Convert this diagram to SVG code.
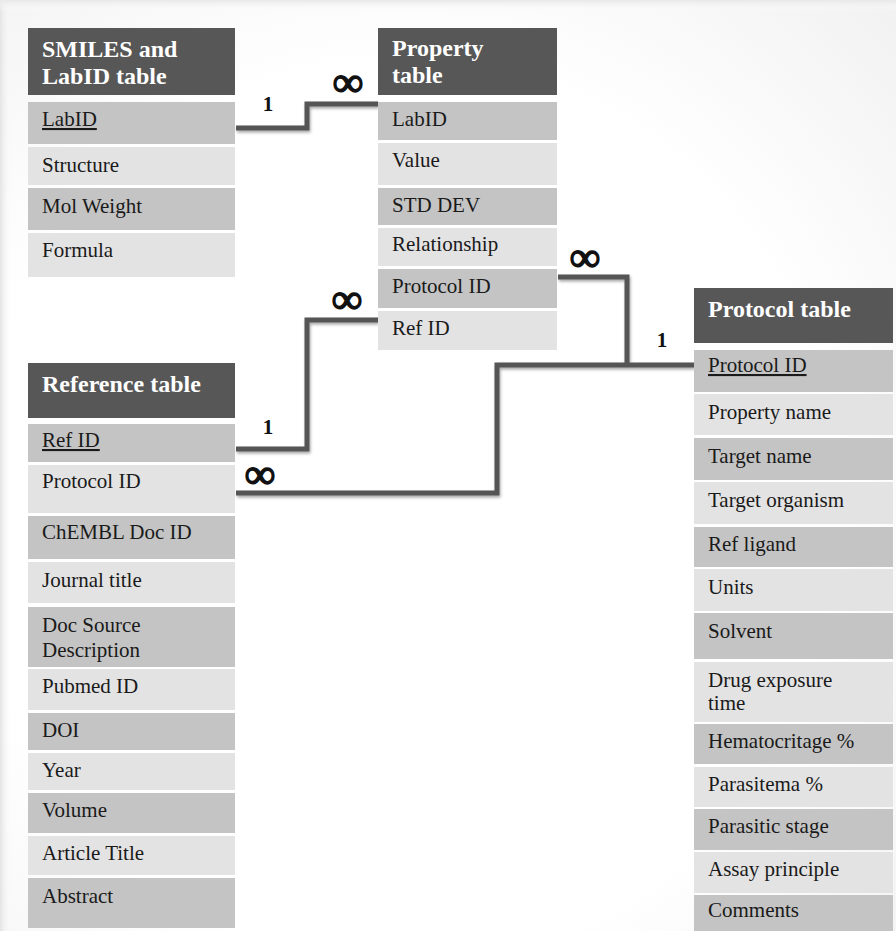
<svg xmlns="http://www.w3.org/2000/svg" width="896" height="931" viewBox="0 0 896 931">
<defs>
<radialGradient id="bg" cx="0.45" cy="0.55" r="0.8">
<stop offset="0.6" stop-color="#ffffff"/>
<stop offset="1" stop-color="#f0f0f0"/>
</radialGradient>
<linearGradient id="edgeL" x1="0" y1="0" x2="1" y2="0">
<stop offset="0" stop-color="#e4e4e4"/>
<stop offset="1" stop-color="#ffffff" stop-opacity="0"/>
</linearGradient>
<linearGradient id="edgeT" x1="0" y1="0" x2="0" y2="1">
<stop offset="0" stop-color="#e8e8e8"/>
<stop offset="1" stop-color="#ffffff" stop-opacity="0"/>
</linearGradient>
<filter id="sh" x="-10%" y="-10%" width="120%" height="130%">
<feDropShadow dx="1" dy="2" stdDeviation="1.5" flood-color="#000" flood-opacity="0.35"/>
</filter>
<style>
.hd{fill:#575757}
.dk{fill:#c4c4c4}
.lt{fill:#e3e3e3}
.ht{font-family:"Liberation Serif","Times New Roman",serif;font-weight:bold;font-size:24px;fill:#ffffff}
.rt{font-family:"Liberation Serif","Times New Roman",serif;font-size:21px;fill:#1a1a1a}
.u{text-decoration:underline}
.conn{fill:none;stroke:#555555;stroke-width:5;stroke-linejoin:miter}
.one{font-family:"Liberation Serif","Times New Roman",serif;font-weight:bold;font-size:21px;fill:#111;text-anchor:middle}
.inf{font-family:"Liberation Serif","DejaVu Serif",serif;font-weight:bold;font-size:42px;fill:#111;stroke:#111;stroke-width:1.6;text-anchor:middle}
</style>
</defs>
<rect x="0" y="0" width="896" height="931" fill="url(#bg)"/>
<rect x="0" y="0" width="12" height="931" fill="url(#edgeL)"/>
<rect x="0" y="0" width="896" height="12" fill="url(#edgeT)"/>

<g id="connectors" filter="url(#sh)">
<path class="conn" d="M236,128 H307 V104 H378"/>
<path class="conn" d="M378,320 H307 V449 H236"/>
<path class="conn" d="M236,493 H497 V365 H694"/>
<path class="conn" d="M558,277 H627 V365"/>
</g>

<g id="labels">
<text class="one" x="268" y="111">1</text>
<text class="inf" x="348" y="96">∞</text>
<text class="inf" x="347" y="313">∞</text>
<text class="one" x="268" y="434">1</text>
<text class="inf" x="260" y="488">∞</text>
<text class="inf" x="585" y="271">∞</text>
<text class="one" x="662" y="347">1</text>
</g>

<g id="smiles-table">
<rect class="hd" x="28" y="28" width="207" height="67"/>
<text class="ht" x="42" y="57">SMILES and</text>
<text class="ht" x="42" y="84">LabID table</text>
<rect class="dk" x="28" y="102" width="207" height="42"/>
<text class="rt u" x="42" y="126">LabID</text>
<rect class="lt" x="28" y="147" width="207" height="38"/>
<text class="rt" x="42" y="172">Structure</text>
<rect class="dk" x="28" y="188" width="207" height="42"/>
<text class="rt" x="42" y="213">Mol Weight</text>
<rect class="lt" x="28" y="233" width="207" height="44"/>
<text class="rt" x="42" y="257">Formula</text>
</g>

<g id="property-table">
<rect class="hd" x="378" y="28" width="179" height="67"/>
<text class="ht" x="392" y="56">Property</text>
<text class="ht" x="392" y="83">table</text>
<rect class="dk" x="378" y="102" width="179" height="38"/>
<text class="rt" x="392" y="126">LabID</text>
<rect class="lt" x="378" y="143" width="179" height="42"/>
<text class="rt" x="392" y="167">Value</text>
<rect class="dk" x="378" y="188" width="179" height="37"/>
<text class="rt" x="392" y="212">STD DEV</text>
<rect class="lt" x="378" y="228" width="179" height="38"/>
<text class="rt" x="392" y="251">Relationship</text>
<rect class="dk" x="378" y="269" width="179" height="39"/>
<text class="rt" x="392" y="293">Protocol ID</text>
<rect class="lt" x="378" y="311" width="179" height="39"/>
<text class="rt" x="392" y="335">Ref ID</text>
</g>

<g id="protocol-table">
<rect class="hd" x="694" y="288" width="199" height="55"/>
<text class="ht" x="708" y="317">Protocol table</text>
<rect class="dk" x="694" y="350" width="199" height="42"/>
<text class="rt u" x="708" y="372">Protocol ID</text>
<rect class="lt" x="694" y="394" width="199" height="41"/>
<text class="rt" x="708" y="419">Property name</text>
<rect class="dk" x="694" y="438" width="199" height="42"/>
<text class="rt" x="708" y="463">Target name</text>
<rect class="lt" x="694" y="482" width="199" height="42"/>
<text class="rt" x="708" y="507">Target organism</text>
<rect class="dk" x="694" y="527" width="199" height="40"/>
<text class="rt" x="708" y="551">Ref ligand</text>
<rect class="lt" x="694" y="569" width="199" height="42"/>
<text class="rt" x="708" y="594">Units</text>
<rect class="dk" x="694" y="613" width="199" height="46"/>
<text class="rt" x="708" y="638">Solvent</text>
<rect class="lt" x="694" y="662" width="199" height="60"/>
<text class="rt" x="708" y="687">Drug exposure</text>
<text class="rt" x="708" y="710">time</text>
<rect class="dk" x="694" y="724" width="199" height="40"/>
<text class="rt" x="708" y="748">Hematocritage %</text>
<rect class="lt" x="694" y="767" width="199" height="40"/>
<text class="rt" x="708" y="791">Parasitema %</text>
<rect class="dk" x="694" y="809" width="199" height="41"/>
<text class="rt" x="708" y="833">Parasitic stage</text>
<rect class="lt" x="694" y="852" width="199" height="41"/>
<text class="rt" x="708" y="876">Assay principle</text>
<rect class="dk" x="694" y="895" width="199" height="36"/>
<text class="rt" x="708" y="917">Comments</text>
</g>

<g id="reference-table">
<rect class="hd" x="28" y="363" width="207" height="55"/>
<text class="ht" x="42" y="392">Reference table</text>
<rect class="dk" x="28" y="424" width="207" height="38"/>
<text class="rt u" x="42" y="447">Ref ID</text>
<rect class="lt" x="28" y="465" width="207" height="48"/>
<text class="rt" x="42" y="488">Protocol ID</text>
<rect class="dk" x="28" y="516" width="207" height="43"/>
<text class="rt" x="42" y="539">ChEMBL Doc ID</text>
<rect class="lt" x="28" y="562" width="207" height="41"/>
<text class="rt" x="42" y="587">Journal title</text>
<rect class="dk" x="28" y="607" width="207" height="60"/>
<text class="rt" x="42" y="632">Doc Source</text>
<text class="rt" x="42" y="657">Description</text>
<rect class="lt" x="28" y="669" width="207" height="41"/>
<text class="rt" x="42" y="693">Pubmed ID</text>
<rect class="dk" x="28" y="713" width="207" height="37"/>
<text class="rt" x="42" y="737">DOI</text>
<rect class="lt" x="28" y="753" width="207" height="37"/>
<text class="rt" x="42" y="777">Year</text>
<rect class="dk" x="28" y="793" width="207" height="40"/>
<text class="rt" x="42" y="817">Volume</text>
<rect class="lt" x="28" y="836" width="207" height="39"/>
<text class="rt" x="42" y="860">Article Title</text>
<rect class="dk" x="28" y="878" width="207" height="50"/>
<text class="rt" x="42" y="903">Abstract</text>
</g>
</svg>
